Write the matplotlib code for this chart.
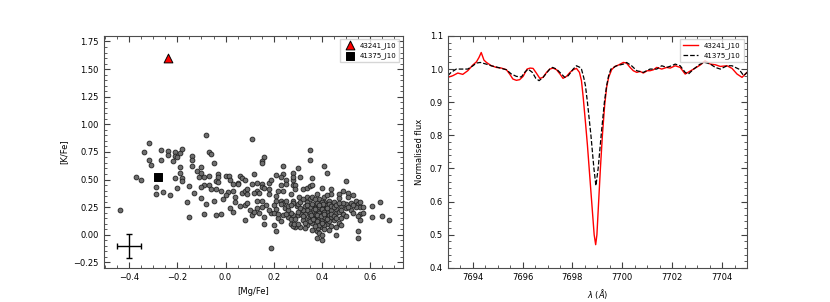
import matplotlib
matplotlib.use("Agg")
import matplotlib.pyplot as plt
from matplotlib.ticker import MultipleLocator

# --- left panel: [K/Fe] vs [Mg/Fe] sample ---
mg_fe = [-0.32, -0.34, -0.27, -0.24, -0.24, -0.21, -0.19, -0.18, -0.21, -0.20, -0.22, -0.32, -0.27, -0.31,
         -0.14, -0.14, -0.14, -0.19, -0.19, -0.12, -0.11, -0.21, -0.18, -0.18, -0.37, -0.35, -0.29, -0.29,
         -0.26, -0.23, -0.20, -0.15, -0.16, -0.44, -0.15,
         -0.08, 0.11, -0.07, -0.06, -0.05, 0.16, 0.15, 0.15, -0.10, -0.10, -0.09, -0.07, -0.03, -0.03,
         -0.04, -0.03, 0.00, 0.015, 0.02, 0.06, 0.07, 0.08, 0.05, 0.05, 0.03, -0.09, -0.07, -0.04, -0.06,
         0.01, 0.03, 0.07, 0.08, 0.09, 0.09, 0.12, 0.11, 0.13, 0.15, 0.15, 0.13, 0.14, 0.12, 0.16, 0.18,
         0.18, 0.18, 0.19, 0.21, 0.24, 0.24, 0.23, 0.25, 0.25, 0.23, 0.28, 0.28, 0.28, 0.24, 0.22,
         -0.10, -0.08, -0.05, -0.01, 0.02, 0.04, 0.08, 0.09, 0.13, 0.15, 0.21, 0.21, 0.23, 0.24, 0.25,
         -0.09, -0.04, -0.02, 0.03, 0.08, 0.11, 0.12, 0.13, 0.14, 0.16, 0.16, 0.19, 0.20, 0.21, 0.19,
         0.21, 0.23, 0.245, 0.24, 0.26, 0.27, 0.27, 0.28,
         0.35, 0.35, 0.41, 0.42, 0.30, 0.28, 0.31, 0.36, 0.50, 0.29, 0.29, 0.32, 0.34, 0.35, 0.36, 0.40,
         0.44, 0.49, 0.51, 0.53, 0.51, 0.47, 0.47, 0.44, 0.27, 0.305, 0.28, 0.34, 0.35, 0.38, 0.39, 0.41,
         0.42, 0.43, 0.45, 0.54, 0.55, 0.56, 0.61, 0.64,
         0.61, 0.65, 0.68, 0.56, 0.54, 0.56, 0.55, 0.56, 0.55, 0.55, 0.46, 0.38, 0.40, 0.38, 0.385, 0.48,
         0.50, 0.49, 0.46, 0.45, 0.41, 0.46, 0.425, 0.42, 0.41, 0.40, 0.39, 0.36, 0.35, 0.33, 0.32, 0.31,
         0.29, 0.28, 0.285, 0.30, 0.315, 0.295, 0.35, 0.37, 0.40, 0.41, 0.34, 0.28,
         0.36, 0.37, 0.38, 0.39, 0.40, 0.37, 0.36, 0.38, 0.39, 0.40, 0.41, 0.42, 0.43, 0.44, 0.43, 0.44,
         0.42, 0.43, 0.41, 0.39, 0.37, 0.36, 0.35, 0.34, 0.33, 0.32, 0.31, 0.33, 0.34, 0.38, 0.39, 0.40,
         0.41, 0.42, 0.43, 0.44, 0.45, 0.46, 0.47, 0.48, 0.47, 0.44, 0.41, 0.39, 0.37, 0.35, 0.34, 0.33,
         0.32, 0.30, 0.29, 0.27, 0.26, 0.25, 0.26, 0.27, 0.30, 0.31, 0.32, 0.36, 0.37, 0.40, 0.405, 0.38,
         0.395, 0.41, 0.42, 0.40, 0.38, 0.365, 0.355, 0.37, 0.39, 0.42, 0.44, 0.45, 0.46, 0.48, 0.50, 0.52,
         0.53, 0.52, 0.51, 0.49, 0.47, 0.57, 0.57, 0.53, 0.50, 0.48, 0.46, 0.43, 0.40, 0.36, 0.33, 0.30,
         0.22, 0.23, 0.20, 0.18, 0.17, 0.15, 0.10, 0.06, 0.04, 0.00, -0.02, -0.13, -0.10, 0.20, 0.22]
k_fe = [0.83, 0.75, 0.77, 0.76, 0.72, 0.75, 0.74, 0.78, 0.71, 0.70, 0.67, 0.68, 0.68, 0.63,
        0.71, 0.68, 0.62, 0.61, 0.56, 0.58, 0.52, 0.51, 0.51, 0.49, 0.52, 0.50, 0.43, 0.37,
        0.39, 0.36, 0.42, 0.44, 0.30, 0.22, 0.16,
        0.90, 0.87, 0.75, 0.73, 0.65, 0.70, 0.67, 0.65, 0.61, 0.56, 0.52, 0.53, 0.55, 0.52,
        0.49, 0.48, 0.53, 0.53, 0.50, 0.53, 0.51, 0.50, 0.47, 0.46, 0.46, 0.45, 0.45, 0.41, 0.41,
        0.39, 0.40, 0.38, 0.40, 0.41, 0.37, 0.55, 0.46, 0.47, 0.46, 0.43, 0.40, 0.38, 0.38, 0.42, 0.37,
        0.41, 0.47, 0.50, 0.54, 0.62, 0.55, 0.52, 0.50, 0.46, 0.45, 0.56, 0.50, 0.45, 0.40, 0.40,
        0.33, 0.28, 0.31, 0.32, 0.24, 0.34, 0.27, 0.29, 0.31, 0.31, 0.35, 0.31, 0.31, 0.29, 0.31,
        0.19, 0.18, 0.19, 0.21, 0.13, 0.18, 0.21, 0.24, 0.20, 0.16, 0.10, 0.20, 0.20, 0.03, -0.12,
        0.23, 0.28, 0.24, 0.18, 0.16, 0.14, 0.10, 0.18,
        0.77, 0.68, 0.62, 0.56, 0.60, 0.52, 0.52, 0.51, 0.49, 0.45, 0.41, 0.41, 0.42, 0.44, 0.45, 0.42,
        0.41, 0.40, 0.38, 0.36, 0.34, 0.37, 0.33, 0.37, 0.37, 0.34, 0.31, 0.34, 0.32, 0.37, 0.32, 0.34,
        0.36, 0.31, 0.30, 0.31, 0.28, 0.25, 0.26, 0.30,
        0.16, 0.17, 0.13, 0.30, 0.25, 0.19, 0.17, 0.13, 0.03, -0.03, 0.00, -0.03, -0.05, 0.03, 0.06, 0.26,
        0.24, 0.19, 0.20, 0.13, 0.13, 0.23, 0.15, 0.19, 0.23, 0.07, 0.12, 0.11, 0.16, 0.14, 0.13, 0.07,
        0.07, 0.08, 0.10, 0.18, 0.19, 0.26, 0.25, 0.27, 0.26, 0.30, 0.30, 0.29,
        0.28, 0.24, 0.22, 0.20, 0.18, 0.19, 0.21, 0.16, 0.15, 0.14, 0.16, 0.21, 0.24, 0.22, 0.18, 0.16,
        0.10, 0.12, 0.09, 0.09, 0.13, 0.16, 0.20, 0.22, 0.19, 0.22, 0.24, 0.26, 0.27, 0.29, 0.25, 0.23,
        0.21, 0.27, 0.28, 0.26, 0.25, 0.27, 0.21, 0.15, 0.11, 0.08, 0.05, 0.02, 0.08, 0.12, 0.09, 0.11,
        0.17, 0.21, 0.14, 0.20, 0.22, 0.19, 0.26, 0.27, 0.28, 0.30, 0.32, 0.34, 0.32, 0.30, 0.28, 0.18,
        0.17, 0.19, 0.14, 0.11, 0.12, 0.14, 0.18, 0.23, 0.27, 0.24, 0.19, 0.17, 0.15, 0.22, 0.28, 0.29,
        0.27, 0.22, 0.25, 0.29, 0.29, 0.25, 0.20, 0.20, 0.17, 0.09, 0.07, 0.04, 0.00, 0.04, 0.06, 0.10,
        0.15, 0.12, 0.09, 0.22, 0.27, 0.25, 0.22, 0.26, 0.30, 0.36, 0.40, 0.38, 0.43, 0.27, 0.19]

star_names = ["43241_J10", "41375_J10"]
star_mg = [-0.24, -0.28]
star_k = [1.60, 0.52]

err_pos = (-0.40, -0.10)
err_size = (0.05, 0.11)

# --- right panel: K I 7699 line profiles ---
red_wl = [7693.00, 7693.20, 7693.40, 7693.60, 7693.80, 7694.00, 7694.15, 7694.25, 7694.34, 7694.45,
          7694.55, 7694.75, 7694.95, 7695.15, 7695.35, 7695.48, 7695.61, 7695.75, 7695.88, 7696.02,
          7696.18, 7696.30, 7696.42, 7696.55, 7696.69, 7696.82, 7696.96, 7697.09, 7697.22, 7697.36,
          7697.50, 7697.62, 7697.76, 7697.90, 7698.03, 7698.16, 7698.28, 7698.36, 7698.43, 7698.52,
          7698.60, 7698.67, 7698.74, 7698.81, 7698.87, 7698.93, 7698.98, 7699.05, 7699.12, 7699.20,
          7699.29, 7699.37, 7699.45, 7699.57, 7699.70, 7699.84, 7700.04, 7700.17, 7700.31, 7700.44,
          7700.58, 7700.71, 7700.84, 7701.00, 7701.11, 7701.25, 7701.38, 7701.58, 7701.78, 7701.92,
          7702.12, 7702.32, 7702.52, 7702.70, 7702.86, 7703.12, 7703.32, 7703.53, 7703.73, 7703.93,
          7704.20, 7704.40, 7704.60, 7704.80, 7705.00]
red_flux = [0.975, 0.980, 0.988, 0.984, 0.995, 1.012, 1.022, 1.035, 1.050, 1.027,
            1.020, 1.010, 1.005, 1.003, 0.998, 0.985, 0.970, 0.966, 0.968, 0.978,
            1.000, 1.003, 1.002, 0.988, 0.972, 0.975, 0.990, 1.000, 1.003, 0.998,
            0.985, 0.972, 0.978, 0.990, 0.998, 1.002, 0.990, 0.965, 0.915, 0.840,
            0.770, 0.700, 0.630, 0.560, 0.500, 0.470, 0.500, 0.600, 0.700, 0.800,
            0.890, 0.945, 0.975, 0.998, 1.008, 1.012, 1.020, 1.018, 1.005, 0.995,
            0.990, 0.993, 0.988, 0.995, 0.995, 0.998, 1.005, 1.000, 1.005, 1.003,
            1.010, 1.005, 0.985, 0.993, 1.000, 1.012, 1.025, 1.015, 1.013, 1.008,
            1.010, 1.002, 0.985, 0.975, 0.990]

blk_wl = [7693.00, 7693.13, 7693.34, 7693.60, 7693.80, 7694.01, 7694.14, 7694.30, 7694.54, 7694.74,
          7695.01, 7695.35, 7695.55, 7695.75, 7695.95, 7696.08, 7696.22, 7696.39, 7696.53, 7696.66,
          7696.82, 7697.09, 7697.20, 7697.36, 7697.56, 7697.69, 7697.83, 7698.03, 7698.16, 7698.30,
          7698.36, 7698.45, 7698.52, 7698.60, 7698.74, 7698.86, 7698.94, 7699.03, 7699.15, 7699.28,
          7699.37, 7699.45, 7699.54, 7699.77, 7700.04, 7700.17, 7700.37, 7700.58, 7700.84, 7701.11,
          7701.38, 7701.58, 7701.78, 7701.98, 7702.12, 7702.32, 7702.52, 7702.65, 7702.86, 7703.12,
          7703.32, 7703.53, 7703.73, 7703.93, 7704.20, 7704.40, 7704.67, 7704.87, 7705.00]
blk_flux = [0.980, 0.990, 1.000, 1.000, 1.000, 1.010, 1.018, 1.020, 1.015, 1.010,
            1.005, 0.998, 0.985, 0.978, 0.976, 0.990, 1.000, 0.990, 0.972, 0.965,
            0.975, 1.000, 1.005, 1.000, 0.985, 0.975, 0.980, 1.000, 1.010, 1.005,
            1.000, 0.975, 0.950, 0.900, 0.800, 0.700, 0.648, 0.700, 0.800, 0.900,
            0.950, 0.980, 1.000, 1.010, 1.015, 1.020, 1.010, 0.995, 0.990, 1.000,
            1.000, 1.010, 1.005, 1.010, 1.015, 1.010, 0.990, 0.985, 1.000, 1.015,
            1.020, 1.015, 1.005, 1.000, 1.010, 1.010, 1.000, 0.980, 0.990]

plt.rcParams['font.size'] = 6
fig, (ax1, ax2) = plt.subplots(1, 2, figsize=(8.3, 3.02), dpi=100)
fig.subplots_adjust(left=0.125, right=0.9, bottom=0.113, top=0.881, wspace=0.15)

ax1.scatter(mg_fe, k_fe, s=12, c='#6e6e6e', edgecolors='#202020', linewidths=0.6, zorder=2)
ax1.scatter(star_mg[0], star_k[0], marker='^', s=40, c='red', edgecolors='black',
            linewidths=0.7, label=star_names[0], zorder=3)
ax1.scatter(star_mg[1], star_k[1], marker='s', s=30, c='black', edgecolors='black',
            linewidths=0.7, label=star_names[1], zorder=3)
ax1.errorbar(err_pos[0], err_pos[1], xerr=err_size[0], yerr=err_size[1], fmt='none',
             ecolor='black', elinewidth=1, capsize=2)
ax1.set_xlim(-0.506, 0.737)
ax1.set_ylim(-0.3, 1.8)
ax1.xaxis.set_major_locator(MultipleLocator(0.2))
ax1.xaxis.set_minor_locator(MultipleLocator(0.05))
ax1.yaxis.set_major_locator(MultipleLocator(0.25))
ax1.yaxis.set_minor_locator(MultipleLocator(0.05))
ax1.set_xlabel('[Mg/Fe]')
ax1.set_ylabel('[K/Fe]')
ax1.legend(loc='upper right', fontsize=5, handletextpad=0.4, borderpad=0.4,
           edgecolor='0.8', fancybox=False)

ax2.plot(red_wl, red_flux, color='red', lw=1, label=star_names[0])
ax2.plot(blk_wl, blk_flux, color='black', lw=0.9, ls='--', label=star_names[1])
ax2.set_xlim(7693, 7705)
ax2.set_ylim(0.4, 1.1)
ax2.xaxis.set_major_locator(MultipleLocator(2))
ax2.xaxis.set_minor_locator(MultipleLocator(0.5))
ax2.yaxis.set_major_locator(MultipleLocator(0.1))
ax2.yaxis.set_minor_locator(MultipleLocator(0.02))
ax2.set_xlabel(r'$\lambda$ ($\AA$)')
ax2.set_ylabel('Normalised flux')
ax2.legend(loc='upper right', fontsize=5, handlelength=2.2, borderpad=0.4,
           edgecolor='0.8', fancybox=False)

for ax in (ax1, ax2):
    ax.tick_params(which='both', direction='in', top=True, right=True, colors='0.25',
                   labelcolor='black', labelsize=6)
    ax.tick_params(which='major', length=4, width=0.8)
    ax.tick_params(which='minor', length=2, width=0.6)
    for sp in ax.spines.values():
        sp.set_color('0.3')

fig.savefig('out.png', dpi=100)
